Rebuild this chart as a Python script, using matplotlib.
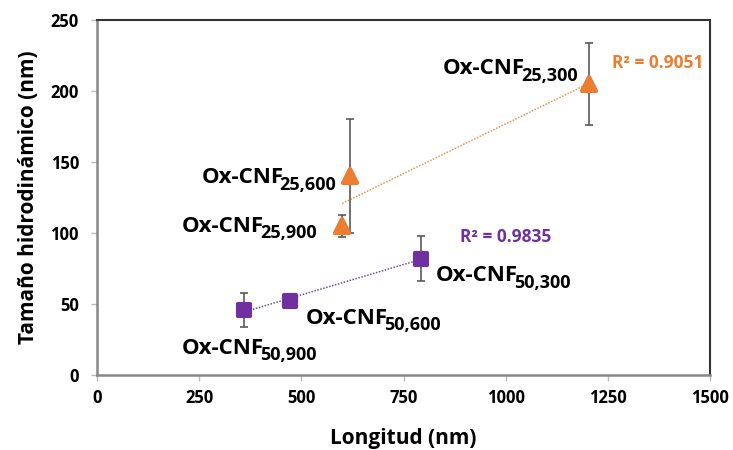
import numpy as np
import matplotlib.pyplot as plt
from matplotlib.markers import MarkerStyle

plt.rcParams['font.family'] = ['Open Sans', 'DejaVu Sans']

# Ox-CNF 25 series (orange)
x25 = [1205, 620, 600]
y25 = [205, 140, 105]
e25 = [29, 40, 8]
sub25 = ['25,300', '25,600', '25,900']

# Ox-CNF 50 series (purple)
x50 = [793, 473, 360]
y50 = [82, 52, 46]
e50 = [16, 4, 12]
sub50 = ['50,300', '50,600', '50,900']

# where each label starts (left edge, baseline), in data units
lab_x = [847, 256, 208, 830, 511, 208]
lab_y = [212, 135, 101, 66, 36, 15]

r2_25 = 'R² = 0.9051'
r2_50 = 'R² = 0.9835'

orange = '#ED7D31'
purple = '#7030A0'

fig = plt.figure(figsize=(7.33, 4.5), dpi=100)
ax = fig.add_axes([97 / 733, 75 / 450, 613 / 733, 355 / 450])

ax.errorbar(x25, y25, yerr=e25, fmt='none', ecolor='#595959', elinewidth=1.2,
            capsize=3, capthick=1.2, zorder=2)
ax.errorbar(x50, y50, yerr=e50, fmt='none', ecolor='#595959', elinewidth=1.2,
            capsize=3, capthick=1.2, zorder=2)
ax.plot(x25, y25, ls='none', marker=MarkerStyle('^', joinstyle='round'),
        color=orange, ms=10, mec=orange, mew=3, zorder=3)
ax.plot(x50, y50, ls='none', marker=MarkerStyle('s', joinstyle='round'),
        color=purple, ms=9, mec=purple, mew=3, zorder=3)

# linear trendlines
for xs, ys, c in [(x25, y25, '#E0974F'), (x50, y50, '#7A4A9A')]:
    p = np.polyfit(xs, ys, 1)
    xx = np.array([min(xs), max(xs)])
    ax.plot(xx, np.polyval(p, xx), color=c, lw=1.1, ls=(0, (1, 1)), zorder=1)

# labels with big subscripts
subs = sub25 + sub50
for lx, ly, s in zip(lab_x, lab_y, subs):
    t = ax.text(lx, ly, 'Ox-CNF', ha='left', va='baseline', fontsize=16, fontweight='bold')
    ax.annotate(s, xy=(1, 0), xycoords=t, xytext=(-3, -4), textcoords='offset points',
                ha='left', va='bottom', fontsize=13, fontweight='bold')

ax.text(1260, 220, r2_25, color=orange, fontsize=12.5, fontweight='bold', va='center')
ax.text(888, 97, r2_50, color=purple, fontsize=12.5, fontweight='bold', va='center')

ax.set_xlim(0, 1500)
ax.set_ylim(0, 250)
ax.set_xticks(np.arange(0, 1501, 250))
ax.set_yticks(np.arange(0, 251, 50))
ax.tick_params(labelsize=12, color='#bbbbbb', length=4, width=1)
for t in ax.get_xticklabels() + ax.get_yticklabels():
    t.set_fontweight('bold')
ax.tick_params(axis='x', pad=6)
ax.tick_params(axis='y', pad=9)

ax.spines['left'].set_color('#888888')
ax.spines['bottom'].set_color('#888888')
ax.spines['left'].set_linewidth(1.8)
ax.spines['bottom'].set_linewidth(1.8)
ax.spines['top'].set_color('#333333')
ax.spines['right'].set_color('#333333')
ax.spines['top'].set_linewidth(1.5)
ax.spines['right'].set_linewidth(1.5)

ax.set_xlabel('Longitud (nm)', fontsize=15, fontweight='bold', labelpad=15)
ax.set_ylabel('Tamaño hidrodinámico (nm)', fontsize=15, fontweight='bold', labelpad=8)

fig.savefig('out.png', dpi=100)
